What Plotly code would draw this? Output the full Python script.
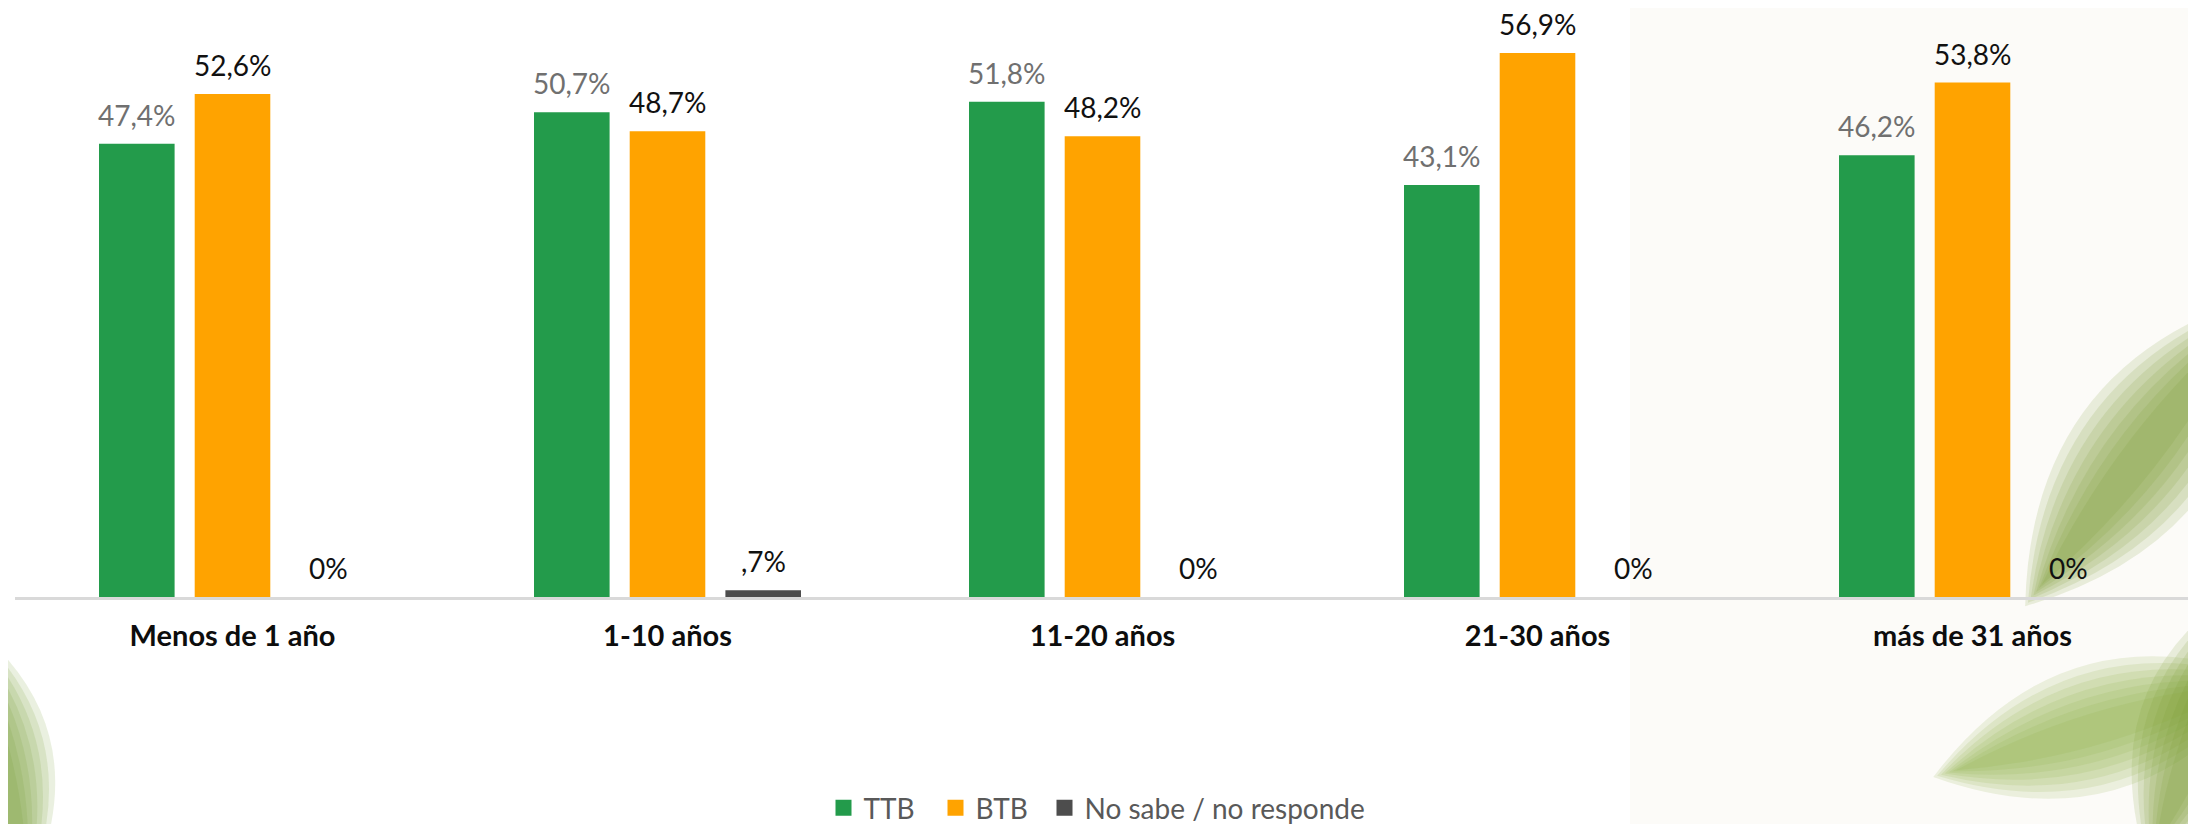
import math
import plotly.graph_objects as go

# ---------------- data ----------------
categories = ["Menos de 1 año", "1-10 años", "11-20 años", "21-30 años", "más de 31 años"]
ttb = [47.4, 50.7, 51.8, 43.1, 46.2]
btb = [52.6, 48.7, 48.2, 56.9, 53.8]
nsnr = [0.0, 0.7, 0.0, 0.0, 0.0]
ttb_labels = ["47,4%", "50,7%", "51,8%", "43,1%", "46,2%"]
btb_labels = ["52,6%", "48,7%", "48,2%", "56,9%", "53,8%"]
nsnr_labels = ["0%", ",7%", "0%", "0%", "0%"]
series_names = ["TTB", "BTB", "No sabe / no responde"]

# ---------------- style ----------------
OFF = 8                       # page body margin
W, H = 2196 - OFF, 824 - OFF  # figure size
ML, MR, MT, MB = 7, 6, 0, 227
Y_TOP = 61.6
BARGAP, BARGROUPGAP = 0.34, 0.21
colors = ["#239B4B", "#FFA300", "#4D4D4D"]
label_colors = ["#707070", "#111111", "#111111"]
FONT = "Lato, 'Open Sans', 'DejaVu Sans', sans-serif"

fig = go.Figure()
for name, vals, col in zip(series_names, [ttb, btb, nsnr], colors):
    fig.add_trace(go.Bar(x=categories, y=vals, name=name, showlegend=False,
                         marker=dict(color=col, line=dict(width=0)),
                         hoverinfo="skip"))
# legend entries (square markers); last one in its own legend box
for k, (name, col) in enumerate(zip(series_names, colors)):
    fig.add_trace(go.Scatter(x=[None], y=[None], mode="markers", name=name,
                             marker=dict(symbol="square", size=16, color=col),
                             legend="legend" if k < 2 else "legend2",
                             showlegend=True, hoverinfo="skip"))

# data labels as annotations aligned to each bar
plot_w = W - ML - MR
plot_h = H - MT - MB
cat_w = plot_w / len(categories)
step = cat_w * (1 - BARGAP) / 3
annotations = []
for i, (vals, labs) in enumerate(zip([ttb, btb, nsnr], [ttb_labels, btb_labels, nsnr_labels])):
    for c, v, t in zip(categories, vals, labs):
        annotations.append(dict(x=c, y=v, xref="x", yref="y", text=t, showarrow=False,
                                xanchor="center", yanchor="bottom",
                                xshift=(i - 1) * step, yshift=10,
                                font=dict(family=FONT, size=28, color=label_colors[i])))

# decorative background (beige panel + blurred leaves), page pixel coords -> paper
def px(x):
    return (x - OFF - ML) / plot_w
def py(y):
    return (H - MB - (y - OFF)) / plot_h

shapes = [dict(type="rect", xref="paper", yref="paper", layer="below",
               x0=px(1630), x1=px(2210), y0=py(840), y1=py(-10),
               fillcolor="#FCFBF8", line=dict(width=0))]

def leaf(x0, y0, x1, y1, thick, color, op, grow):
    mx, my = (x0 + x1) / 2, (y0 + y1) / 2
    x0, y0 = mx + (x0 - mx) * grow, my + (y0 - my) * grow
    x1, y1 = mx + (x1 - mx) * grow, my + (y1 - my) * grow
    dx, dy = x1 - x0, y1 - y0
    L = math.hypot(dx, dy)
    nx, ny = -dy / L * thick, dx / L * thick
    path = (f"M {px(x0)},{py(y0)} "
            f"Q {px(mx + nx)},{py(my + ny)} {px(x1)},{py(y1)} "
            f"Q {px(mx - nx)},{py(my - ny)} {px(x0)},{py(y0)} Z")
    return dict(type="path", xref="paper", yref="paper", layer="below", path=path,
                fillcolor=color, opacity=op, line=dict(width=0))

leaf_specs = [
    (2260, 300, 2030, 600, 90, "#779D31"),   # upper right leaf
    (1940, 775, 2260, 680, 80, "#8AAE45"),   # lower right leaf
    (2150, 860, 2260, 580, 80, "#779D31"),   # right edge
    (-40, 620, 30, 880, 70, "#72982D"),      # left leaf
]
for (x0, y0, x1, y1, th, col) in leaf_specs:
    for k in [1.6, 1.4, 1.2, 1.0, 0.8, 0.6, 0.4]:
        shapes.append(leaf(x0, y0, x1, y1, th * k, col, 0.15, 0.85 + 0.12 * k))

fig.update_layout(
    width=W, height=H,
    margin=dict(l=ML, r=MR, t=MT, b=MB, pad=0, autoexpand=False),
    barmode="group", bargap=BARGAP, bargroupgap=BARGROUPGAP,
    paper_bgcolor="white", plot_bgcolor="rgba(0,0,0,0)",
    font=dict(family=FONT),
    xaxis=dict(showline=True, linecolor="#D9D9D9", linewidth=3, showgrid=False,
               ticks="", ticklabelstandoff=11, automargin=False,
               tickfont=dict(family=FONT, size=29, color="#0D0D0D", weight="bold"),
               range=[-0.5, 4.5], fixedrange=True),
    yaxis=dict(visible=False, range=[0, Y_TOP], showgrid=False, zeroline=False,
               fixedrange=True, automargin=False),
    legend=dict(orientation="h", x=px(823.5), xanchor="left", y=py(808), yanchor="middle",
                font=dict(family=FONT, size=28, color="#595959"),
                bgcolor="rgba(0,0,0,0)", itemclick=False, itemdoubleclick=False,
                entrywidth=67, entrywidthmode="pixels", itemsizing="trace",
                tracegroupgap=0),
    legend2=dict(orientation="h", x=px(1044.5), xanchor="left", y=py(808), yanchor="middle",
                 font=dict(family=FONT, size=28, color="#595959"),
                 bgcolor="rgba(0,0,0,0)", itemclick=False, itemdoubleclick=False,
                 itemsizing="trace", tracegroupgap=0),
    annotations=annotations,
    shapes=shapes,
)

fig.write_html("out.html")
